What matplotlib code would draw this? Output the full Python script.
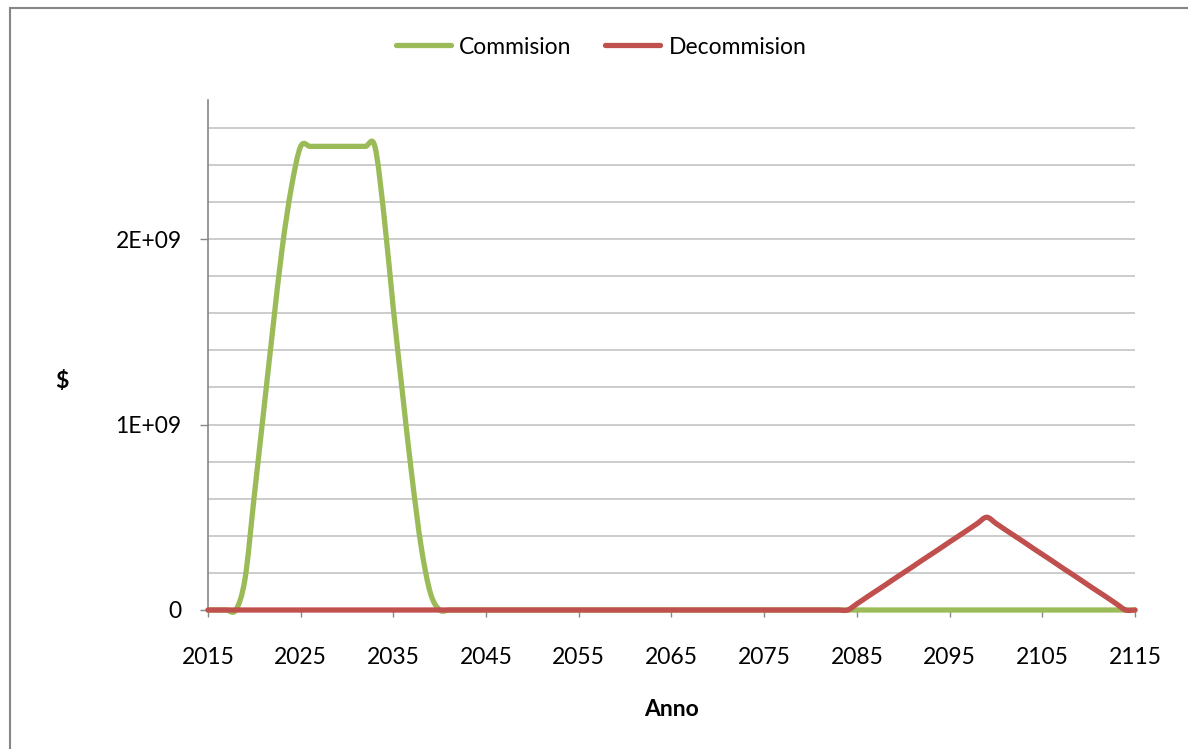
import matplotlib
matplotlib.use("Agg")
import matplotlib.pyplot as plt
import numpy as np
from matplotlib.path import Path
from matplotlib.patches import PathPatch, Rectangle
from matplotlib.lines import Line2D

# annual series, values in units of 1E+09 $
years = list(range(2015, 2116))

commission = ([0.0] * 4                                   # 2015-2018
              + [0.17, 0.62, 1.07, 1.52, 1.95, 2.28]        # 2019-2024
              + [2.5] * 9                                   # 2025-2033
              + [2.12, 1.62, 1.16, 0.72, 0.34, 0.09, 0.0]   # 2034-2040
              + [0.0] * 75)                                 # 2041-2115

decommission = ([0.0] * 70                                  # 2015-2084
                + [0.033, 0.067, 0.100, 0.133, 0.167, 0.200, 0.233, 0.267,
                   0.300, 0.333, 0.367, 0.400, 0.433, 0.467, 0.500]   # 2085-2099
                + [0.467, 0.433, 0.400, 0.367, 0.333, 0.300, 0.267, 0.233,
                   0.200, 0.167, 0.133, 0.100, 0.067, 0.033, 0.0]     # 2100-2114
                + [0.0])                                    # 2115

series_names = ["Commision", "Decommision"]
series_colors = ["#9BBB59", "#C0504D"]
xtick_years = list(range(2015, 2116, 10))
ytick_values = [0, 1e9, 2e9]
ytick_labels = ["0", "1E+09", "2E+09"]

FONT = "Lato"
FS = 16.5
LW = 3.8


def smooth_path(x, y):
    # Excel-style smoothed line: cubic bezier through every point
    pts = np.column_stack([x, y]).astype(float)
    n = len(pts)
    verts = [pts[0]]
    codes = [Path.MOVETO]
    for i in range(n - 1):
        p0 = pts[i - 1] if i > 0 else pts[i]
        p1 = pts[i]
        p2 = pts[i + 1]
        p3 = pts[i + 2] if i + 2 < n else pts[i + 1]
        verts += [p1 + (p2 - p0) / 6, p2 - (p3 - p1) / 6, p2]
        codes += [Path.CURVE4] * 3
    return Path(verts, codes)


fig = plt.figure(figsize=(11.88, 7.49), dpi=100)
ax = fig.add_axes([208 / 1188, 1 - 610 / 749, (1135 - 208) / 1188, (610 - 100) / 749])

for i, vals in enumerate([commission, decommission]):
    yv = np.array(vals) * 1e9
    patch = PathPatch(smooth_path(years, yv), fill=False, edgecolor=series_colors[i],
                      lw=LW, capstyle="round", joinstyle="round", zorder=3 + i)
    patch.set_clip_on(False)
    ax.add_patch(patch)

ax.set_xlim(2015, 2115)
ax.set_ylim(0, 2.75e9)

ax.set_xticks(xtick_years)
ax.set_xticklabels([str(y) for y in xtick_years], fontfamily=FONT, fontsize=FS)
ax.set_yticks(ytick_values)
ax.set_yticklabels(ytick_labels, fontfamily=FONT, fontsize=FS)
ax.set_yticks(np.arange(2e8, 2.7e9, 2e8), minor=True)

ax.grid(True, axis="y", which="both", color="#BEBEBE", lw=1.1, zorder=0)
ax.set_axisbelow(True)
ax.tick_params(axis="x", direction="out", length=5, width=1, color="#868686", pad=22)
ax.tick_params(axis="y", which="major", direction="out", length=6, width=1, color="#868686", pad=13)
ax.tick_params(axis="y", which="minor", length=0)

for s in ["top", "right"]:
    ax.spines[s].set_visible(False)
for s in ["left", "bottom"]:
    ax.spines[s].set_color("#868686")
    ax.spines[s].set_linewidth(1.2)

fig.text(672 / 1188, 1 - 710 / 749, "Anno", ha="center", va="center",
         fontfamily=FONT, fontsize=FS, fontweight="bold")
fig.text(62 / 1188, 1 - 381 / 749, "$", ha="center", va="center",
         fontfamily=FONT, fontsize=FS, fontweight="bold")

handles = [Line2D([0], [0], color=c, lw=LW, solid_capstyle="round") for c in series_colors]
fig.legend(handles, series_names, loc="center", bbox_to_anchor=(601 / 1188, 1 - 47 / 749),
           ncol=2, frameon=False, prop={"family": FONT, "size": FS},
           handlelength=2.4, handletextpad=0.35, columnspacing=1.5)

fig.patches.append(Rectangle((10 / 1188, -0.05), 1.2, 1.05 - 8 / 749, transform=fig.transFigure,
                             fill=False, edgecolor="#868686", lw=1.5))

fig.savefig("out.png", dpi=100)
